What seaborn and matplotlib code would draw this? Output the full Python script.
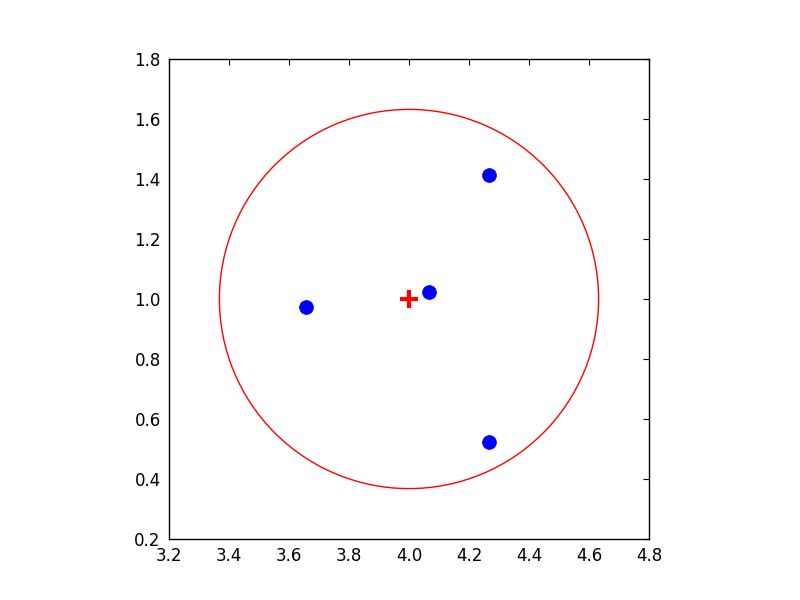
import numpy as np
import pandas as pd
import matplotlib
matplotlib.use("Agg")
import matplotlib.pyplot as plt
import seaborn as sns

# points
pts_x = [3.657, 4.067, 4.267, 4.267]
pts_y = [0.973, 1.023, 1.413, 0.523]
center = (4.0, 1.0)
radius = 0.632

sns.set_style("white")
plt.rcParams['font.family'] = ['DejaVu Sans']
plt.rcParams['font.size'] = 12

fig = plt.figure(figsize=(8, 6), dpi=100)
ax = fig.add_axes([0.21125, 0.10167, 0.6, 0.8])

data = pd.DataFrame({"x": pts_x, "y": pts_y})
sns.scatterplot(data=data, x="x", y="y", ax=ax, color="blue", s=100,
                edgecolor="blue", linewidth=0.5, zorder=3)
ax.plot([center[0]], [center[1]], marker="+", color="red", markersize=13,
        markeredgewidth=3, linestyle="none", zorder=3)

circ = plt.Circle(center, radius, fill=False, color="red", linewidth=1)
ax.add_patch(circ)

ax.set_xlim(3.2, 4.8)
ax.set_ylim(0.2, 1.8)
ax.set_aspect("equal")
ax.set_xticks(np.arange(3.2, 4.81, 0.2))
ax.set_yticks(np.arange(0.2, 1.81, 0.2))
ax.tick_params(direction="in", top=True, right=True, length=4, width=0.8,
               labelsize=12, colors="black", pad=6)
ax.set_xlabel("")
ax.set_ylabel("")
for sp in ax.spines.values():
    sp.set_color("black")
    sp.set_linewidth(1)

fig.savefig("out.png", dpi=100)
